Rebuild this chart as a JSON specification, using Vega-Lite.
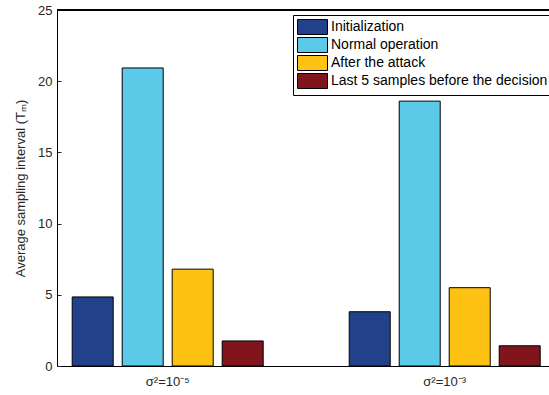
{
  "$schema": "https://vega.github.io/schema/vega-lite/v6.json",
  "autosize": {"type": "none"},
  "width": 492,
  "height": 356,
  "padding": {"left": 57, "top": 10, "right": 0, "bottom": 29},
  "background": "white",
  "config": {
    "font": "Liberation Sans",
    "view": {"stroke": null},
    "axis": {"grid": false, "domainColor": "black", "labelColor": "#262626", "titleColor": "#262626", "labelFontSize": 13, "titleFontSize": 13, "titleFontWeight": "normal"}
  },
  "data": {
    "values": [
      {"group": "σ²=10⁻⁵", "series": "Initialization", "value": 4.85},
      {"group": "σ²=10⁻⁵", "series": "Normal operation", "value": 20.93},
      {"group": "σ²=10⁻⁵", "series": "After the attack", "value": 6.8},
      {"group": "σ²=10⁻⁵", "series": "Last 5 samples before the decision", "value": 1.76},
      {"group": "σ²=10⁻³", "series": "Initialization", "value": 3.81},
      {"group": "σ²=10⁻³", "series": "Normal operation", "value": 18.6},
      {"group": "σ²=10⁻³", "series": "After the attack", "value": 5.5},
      {"group": "σ²=10⁻³", "series": "Last 5 samples before the decision", "value": 1.42}
    ]
  },
  "layer": [
    {
      "mark": {"type": "bar", "stroke": "black", "strokeWidth": 1},
      "encoding": {
        "x": {
          "field": "group", "type": "nominal", "sort": null,
          "scale": {"range": [0, 498.4], "paddingInner": 0.278, "paddingOuter": 0.0386},
          "axis": {"title": null, "labelAngle": 0, "ticks": false, "labelPadding": 9, "domainWidth": 1}
        },
        "xOffset": {
          "field": "series", "type": "nominal",
          "sort": ["Initialization", "Normal operation", "After the attack", "Last 5 samples before the decision"],
          "scale": {"paddingInner": 0.18, "paddingOuter": 0.09}
        },
        "y": {
          "field": "value", "type": "quantitative",
          "scale": {"domain": [0, 25], "nice": false},
          "axis": {"title": "Average sampling interval (Tₘ)", "values": [0, 5, 10, 15, 20, 25], "tickSize": -4, "tickColor": "#262626", "labelPadding": 9, "titlePadding": 10}
        },
        "color": {
          "field": "series", "type": "nominal",
          "sort": ["Initialization", "Normal operation", "After the attack", "Last 5 samples before the decision"],
          "scale": {"range": ["#23408A", "#5BC9E7", "#FEC214", "#80161C"]},
          "legend": {
            "title": null, "orient": "none", "legendX": 236, "legendY": 5,
            "symbolType": "M-1,-1H3V1H-1Z", "symbolSize": 225, "symbolStrokeColor": "black", "symbolStrokeWidth": 1, "symbolOpacity": 1,
            "labelFontSize": 14, "labelColor": "black", "labelOffset": 18, "labelLimit": 400, "rowPadding": -2,
            "strokeColor": "black", "fillColor": "white", "padding": 4
          }
        }
      }
    },
    {
      "mark": {"type": "rule", "color": "black", "strokeWidth": 1},
      "encoding": {"y": {"datum": 25}}
    }
  ]
}
